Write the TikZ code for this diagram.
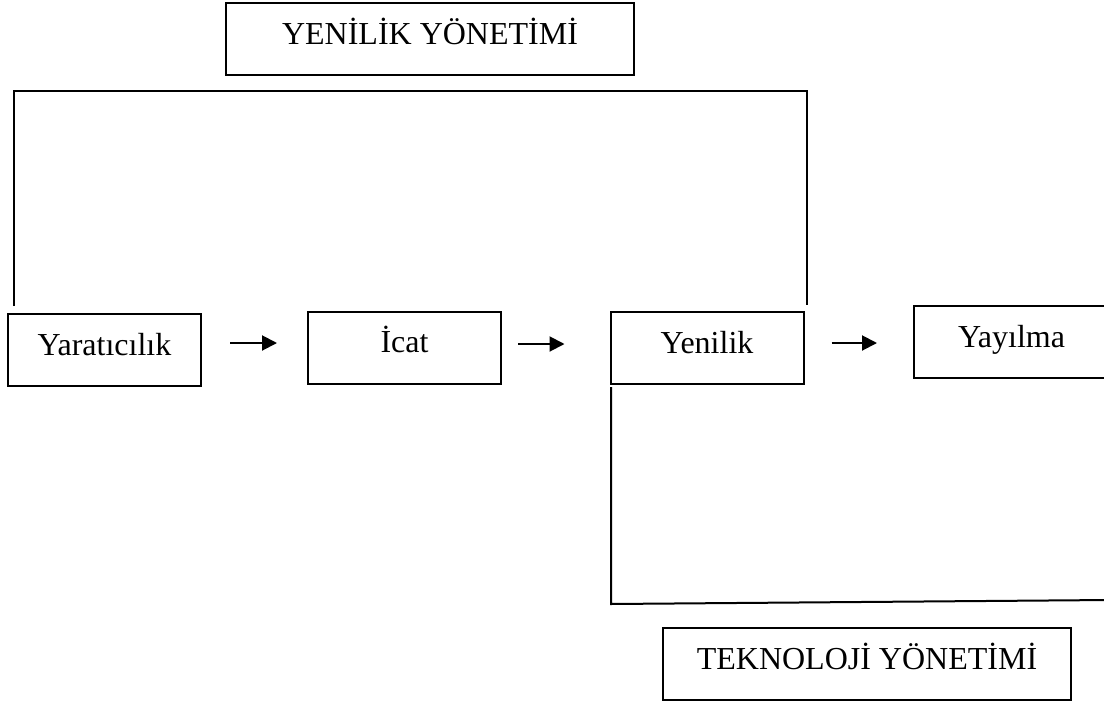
\documentclass[tikz,border=0pt]{standalone}
\usepackage{fontspec}
\setmainfont{Liberation Serif}
\usetikzlibrary{arrows.meta}
\tikzset{
  stage/.style={draw, line width=1pt, minimum width=96.5pt, minimum height=36pt,
    inner sep=0pt, font=\fontsize{16}{19}\selectfont, text height=10pt, text depth=5pt},
  widebox/.style={stage, minimum width=204pt},
  flow/.style={line width=1pt, -{Triangle[length=7.5pt,width=7.5pt]}},
  bracket/.style={line width=1pt}
}
\begin{document}
\begin{tikzpicture}[x=0.5pt,y=-0.5pt]
\useasboundingbox (0,0) rectangle (1104,702);
\clip (0,0) rectangle (1104,702);

% management labels
\node[widebox] (yon) at (430,39) {YENİLİK YÖNETİMİ};
\node[widebox] (tek) at (867,664) {TEKNOLOJİ YÖNETİMİ};

% process stages
\node[stage] (yar) at (104.5,350) {Yaratıcılık};
\node[stage] (icat) at (404.5,347.5) {İcat};
\node[stage] (yen) at (707,348) {Yenilik};
\node[stage, minimum width=97.5pt] (yay) at (1011.5,342) {Yayılma};

% arrows between stages
\draw[flow, shorten <=14pt, shorten >=15pt]
  ([yshift=3.5pt]yar.east) -- ([yshift=3.5pt]yar.east -| icat.west);
\draw[flow, shorten <=8pt, shorten >=22.5pt]
  ([yshift=1.75pt]icat.east) -- ([yshift=1.75pt]icat.east -| yen.west);
\draw[flow, shorten <=13.5pt, shorten >=18pt]
  ([yshift=2.5pt]yen.east) -- ([yshift=2.5pt]yen.east -| yay.west);

% bracket spanning innovation management
\coordinate (ytl) at (14,91);
\coordinate (ytr) at (807,91);
\draw[bracket] ([yshift=3.5pt]yar.north -| ytl) -- (ytl) -- (ytr)
  -- ([yshift=3pt]yen.north -| ytr);

% bracket spanning technology management
\coordinate (tcorner) at (611,604);
\coordinate (tend) at (1110,600);
\draw[bracket] ([yshift=-1pt]yen.south -| tcorner) -- (tcorner) -- (tend);
\end{tikzpicture}
\end{document}
